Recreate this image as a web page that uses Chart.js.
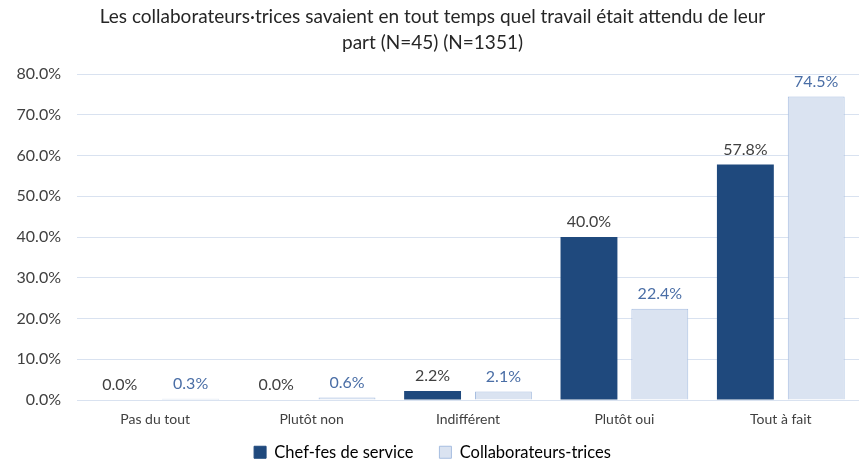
<!DOCTYPE html>
<html><head><meta charset="utf-8">
<script src="https://cdn.jsdelivr.net/npm/chart.js@4/dist/chart.umd.min.js"></script>
<style>html,body{margin:0;padding:0;background:#fff}#w{width:859px;height:464px}</style>
</head><body><div id="w"><canvas id="c"></canvas></div>
<script>
const categories = ["Pas du tout", "Plutôt non", "Indifférent", "Plutôt oui", "Tout à fait"];
const chefs = [0.0, 0.0, 2.2, 40.0, 57.8];
const collabs = [0.3, 0.6, 2.1, 22.4, 74.5];
const seriesNames = ["Chef-fes de service", "Collaborateurs-trices"];
const titleLines = ["Les collaborateurs·trices savaient en tout temps quel travail était attendu de leur", "part (N=45) (N=1351)"];
const FONT = "Lato";

const labelPlugin = {
  id: 'vlabels',
  afterDatasetsDraw(chart) {
    const ctx = chart.ctx;
    const colors = ['#404040', '#4a6ea6'];
    chart.data.datasets.forEach((ds, i) => {
      const meta = chart.getDatasetMeta(i);
      meta.data.forEach((bar, j) => {
        ctx.save();
        ctx.font = '16px ' + FONT;
        ctx.fillStyle = colors[i];
        ctx.textAlign = 'center';
        ctx.textBaseline = 'bottom';
        ctx.fillText(ds.data[j].toFixed(1) + '%', bar.x, bar.y - 7);
        ctx.restore();
      });
    });
  }
};

new Chart(document.getElementById('c'), {
  type: 'bar',
  data: {
    labels: categories,
    datasets: [
      { label: seriesNames[0], data: chefs, backgroundColor: '#1f497d', borderColor: '#1f497d', borderWidth: 0,
        categoryPercentage: 0.906, barPercentage: 0.803 },
      { label: seriesNames[1], data: collabs, backgroundColor: '#dae3f1', borderColor: '#a6bde0', borderWidth: 1,
        categoryPercentage: 0.906, barPercentage: 0.803 }
    ]
  },
  options: {
    responsive: true, maintainAspectRatio: false, animation: false,
    devicePixelRatio: 1,
    layout: { padding: { left: 6, right: 0, top: 4, bottom: 0 } },
    plugins: {
      title: { display: true, text: titleLines, color: '#262626', font: { family: FONT, size: 19, weight: 'normal', lineHeight: 1.37 }, padding: { top: 0, bottom: 18 } },
      legend: { position: 'bottom', maxHeight: 46, labels: { color: '#404040', font: { family: FONT, size: 16.5 }, boxWidth: 12, boxHeight: 12, padding: 26,
        generateLabels(chart) {
          return chart.data.datasets.map((d, i) => ({ text: d.label, fillStyle: d.backgroundColor, strokeStyle: i ? '#a6bde0' : d.backgroundColor, lineWidth: 1, datasetIndex: i }));
        } } },
      tooltip: { enabled: false }
    },
    scales: {
      x: { grid: { display: false, drawTicks: false }, border: { display: true, color: '#d9e2f0' },
        ticks: { color: '#404040', font: { family: FONT, size: 14 }, padding: -27.5, mirror: true },
        afterFit(s) { s.height = 18; } },
      y: { min: 0, max: 80, grid: { color: '#d9e2f0', drawTicks: false }, border: { display: false },
        ticks: { stepSize: 10, color: '#404040', font: { family: FONT, size: 16 }, padding: 16, callback: v => v.toFixed(1) + '%' },
        afterFit(s) { s.width = 71; } }
    }
  },
  plugins: [labelPlugin]
});
</script></body></html>
